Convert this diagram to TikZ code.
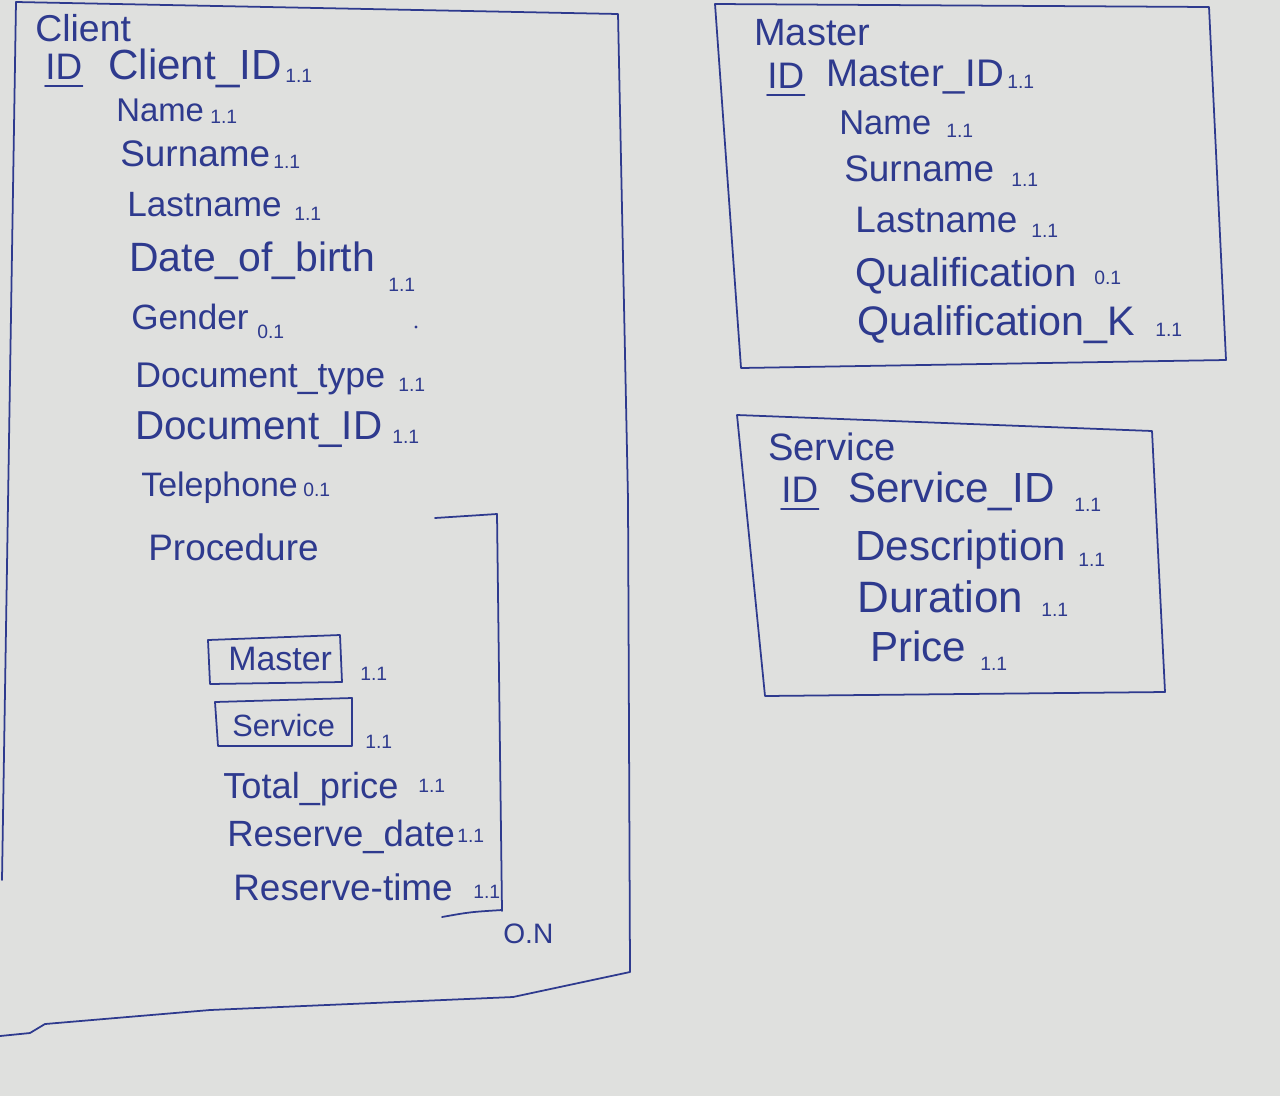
\documentclass[tikz,border=0pt]{standalone}
\usepackage{fontspec}
\setmainfont{Liberation Sans}
\definecolor{ink}{HTML}{2E3A8E}
\definecolor{paper}{HTML}{DFE0DE}
\begin{document}
\begin{tikzpicture}[x=0.02cm,y=-0.02cm,
  pen/.style={draw=ink,line width=1pt,line join=round,line cap=round},
  fs/.style={font=\fontsize{#1}{#1}\selectfont},
  lbl/.style={anchor=base west,inner sep=0pt,text=ink},
  card/.style={lbl,fs=11},
  uline/.style={pen,line width=0.9pt}]
\fill[paper] (0,0) rectangle (1280,1096);
\useasboundingbox (0,0) rectangle (1280,1096);

% ---------------- Client ----------------
\draw[pen] (2,880) -- (16,2) -- (618,14) -- (628,500) -- (630,972)
  -- (513,997) -- (210,1010) -- (45,1024) -- (30,1033) -- (0,1036);
\node[lbl,fs=21.3] (cT) at (35,41) {Client};
\node[lbl,fs=21] (cIDk) at (45,79) {ID};
\draw[uline] ([yshift=-4pt]cIDk.base west) -- ([yshift=-4pt]cIDk.base east);
\node[lbl,fs=24] (cID) at (108,79) {Client\_ID};
\node[card] (cIDc) at (285,82) {1.1};
\node[lbl,fs=18.7] (cName) at (116,121) {Name};
\node[card] (cNamec) at (210,123) {1.1};
\node[lbl,fs=21] (cSur) at (120,166) {Surname};
\node[card] (cSurc) at (273,168) {1.1};
\node[lbl,fs=20] (cLast) at (127,216) {Lastname};
\node[card] (cLastc) at (294,220) {1.1};
\node[lbl,fs=23.3] (cDob) at (129,271) {Date\_of\_birth};
\node[card] (cDobc) at (388,291) {1.1};
\node[lbl,fs=20] (cGen) at (131,329) {Gender};
\node[card] (cGenc) at (257,338) {0.1};
\fill[ink] (416,327) circle (1.6);
\node[lbl,fs=20.3] (cDt) at (135,387) {Document\_type};
\node[card] (cDtc) at (398,391) {1.1};
\node[lbl,fs=23] (cDid) at (135,439) {Document\_ID};
\node[card] (cDidc) at (392,443) {1.1};
\node[lbl,fs=19.3] (cTel) at (141,496) {Telephone};
\node[card] (cTelc) at (303,496) {0.1};
\node[lbl,fs=21] (cProc) at (148,560) {Procedure};

% Procedure bracket
\draw[pen] (435,518) -- (497,514) -- (502,911);
\draw[pen] (442,917) .. controls (470,912) .. (502,910);
\node[lbl,fs=16] (on) at (503,943) {O.N};

% inner Master box
\draw[pen] (208,640) -- (340,635) -- (342,682) -- (210,684) -- cycle;
\node[lbl,fs=19.3] (pM) at (228,670) {Master};
\node[card] (pMc) at (360,680) {1.1};
% inner Service box
\draw[pen] (215,702) -- (352,698) -- (352,746) -- (218,746) -- cycle;
\node[lbl,fs=17.5] (pS) at (232,736) {Service};
\node[card] (pSc) at (365,748) {1.1};
\node[lbl,fs=20.6] (pTot) at (223,798) {Total\_price};
\node[card] (pTotc) at (418,792) {1.1};
\node[lbl,fs=20.8] (pDate) at (227,846) {Reserve\_date};
\node[card] (pDatec) at (457,842) {1.1};
\node[lbl,fs=21] (pTime) at (233,900) {Reserve-time};
\node[card] (pTimec) at (473,898) {1.1};

% ---------------- Master ----------------
\draw[pen] (715,4) -- (1209,7) -- (1226,360) -- (741,368) -- cycle;
\node[lbl,fs=21.6] (mT) at (754,45) {Master};
\node[lbl,fs=21] (mIDk) at (767,88) {ID};
\draw[uline] ([yshift=-4pt]mIDk.base west) -- ([yshift=-4pt]mIDk.base east);
\node[lbl,fs=21.9] (mID) at (826,86) {Master\_ID};
\node[card] (mIDc) at (1007,88) {1.1};
\node[lbl,fs=19.6] (mName) at (839,134) {Name};
\node[card] (mNamec) at (946,137) {1.1};
\node[lbl,fs=21] (mSur) at (844,181) {Surname};
\node[card] (mSurc) at (1011,186) {1.1};
\node[lbl,fs=21] (mLast) at (855,232) {Lastname};
\node[card] (mLastc) at (1031,237) {1.1};
\node[lbl,fs=22.9] (mQ) at (855,286) {Qualification};
\node[card] (mQc) at (1094,284) {0.1};
\node[lbl,fs=23.5] (mQK) at (857,335) {Qualification\_K};
\node[card] (mQKc) at (1155,336) {1.1};

% ---------------- Service ----------------
\draw[pen] (737,415) -- (1152,431) -- (1165,692) -- (765,696) -- cycle;
\node[lbl,fs=21.7] (sT) at (768,460) {Service};
\node[lbl,fs=21] (sIDk) at (781,502) {ID};
\draw[uline] ([yshift=-4pt]sIDk.base west) -- ([yshift=-4pt]sIDk.base east);
\node[lbl,fs=24] (sID) at (848,502) {Service\_ID};
\node[card] (sIDc) at (1074,511) {1.1};
\node[lbl,fs=24] (sDesc) at (855,560) {Description};
\node[card] (sDescc) at (1078,566) {1.1};
\node[lbl,fs=25] (sDur) at (857,612) {Duration};
\node[card] (sDurc) at (1041,616) {1.1};
\node[lbl,fs=24] (sPr) at (870,661) {Price};
\node[card] (sPrc) at (980,670) {1.1};
\end{tikzpicture}
\end{document}
